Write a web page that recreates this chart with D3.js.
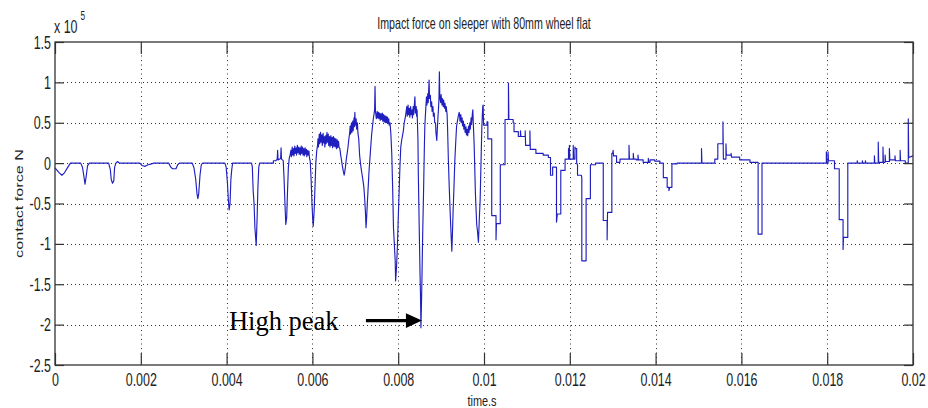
<!DOCTYPE html>
<html>
<head>
<meta charset="utf-8">
<script src="https://cdn.jsdelivr.net/npm/d3@7"></script>
<style>
  body { margin: 0; background: #fff; }
  svg { display: block; }
</style>
</head>
<body>
<svg id="chart"></svg>
<script>
// Trace: [time in ms, contact force in 1e5 N]
const quietStart = [
  [0,-0.06],[0.05,-0.09],[0.1,-0.12],[0.16,-0.15],[0.22,-0.12],[0.3,-0.05],[0.36,0],
  [0.6,0],[0.64,-0.05],[0.67,-0.15],[0.7,-0.26],[0.73,-0.15],[0.76,-0.03],[0.8,0],
  [1.25,0],[1.29,-0.08],[1.31,-0.2],[1.34,-0.25],[1.37,-0.22],[1.39,-0.05],[1.42,0],[1.46,0.02],[1.5,0],
  [1.98,0],[2.03,-0.03],[2.1,-0.04],[2.17,-0.02],[2.25,-0.01],[2.3,0],
  [2.65,0],[2.7,-0.05],[2.74,-0.07],[2.82,-0.07],[2.86,-0.02],[2.9,0],
  [3.2,0],[3.24,-0.06],[3.28,-0.2],[3.31,-0.38],[3.33,-0.44],[3.35,-0.38],[3.38,-0.15],[3.41,-0.02],[3.44,0],
  [3.96,0],[3.99,-0.05],[4.02,-0.25],[4.04,-0.45],[4.06,-0.58],[4.08,-0.5],[4.1,-0.2],[4.12,-0.08],[4.14,0],
  [4.58,0],[4.6,-0.05],[4.62,-0.35],[4.64,-0.5],[4.66,-0.8],[4.69,-1.02],[4.71,-0.7],[4.73,-0.3],[4.75,-0.05],[4.77,0],
  [5.09,0]
];

const noisyMiddle = [
  [5.09,0.03],[5.15,0.03],[5.18,0.05],[5.19,0.16],[5.2,0.04],[5.24,0.05],[5.26,0.06],[5.27,0.19],[5.28,0.05],[5.32,0.03],
  [5.34,-0.2],[5.36,-0.5],[5.38,-0.76],[5.4,-0.68],[5.42,-0.35],[5.44,-0.05],[5.46,0.06],[5.48,0.1],
  [5.5,0.16],[5.51,0.08],[5.53,0.2],[5.54,0.1],[5.56,0.18],[5.57,0.09],[5.59,0.21],[5.6,0.12],[5.62,0.19],[5.63,0.1],
  [5.65,0.22],[5.66,0.13],[5.68,0.2],[5.69,0.11],[5.71,0.19],[5.72,0.1],[5.74,0.21],[5.75,0.12],[5.77,0.2],[5.78,0.1],
  [5.8,0.18],[5.81,0.09],[5.83,0.19],[5.84,0.11],[5.86,0.17],[5.87,0.08],[5.89,0.16],[5.9,0.1],[5.92,0.15],[5.93,0.07],
  [5.95,0.02],[5.97,-0.2],[5.99,-0.5],[6.01,-0.72],[6.02,-0.78],[6.04,-0.6],[6.06,-0.3],[6.08,0],[6.1,0.15],[6.12,0.22],
  [6.13,0.3],[6.14,0.2],[6.16,0.36],[6.17,0.24],[6.19,0.38],[6.2,0.26],[6.22,0.35],[6.23,0.22],[6.25,0.37],[6.26,0.25],
  [6.28,0.33],[6.29,0.2],[6.31,0.34],[6.32,0.24],[6.34,0.38],[6.35,0.26],[6.37,0.36],[6.38,0.22],[6.4,0.33],[6.41,0.2],
  [6.43,0.34],[6.44,0.22],[6.46,0.32],[6.47,0.19],[6.49,0.33],[6.5,0.21],[6.52,0.31],[6.53,0.2],[6.55,0.3],[6.56,0.18],
  [6.58,0.29],[6.59,0.19],[6.61,0.27],[6.62,0.2],
  [6.64,0.18],[6.66,0.1],[6.68,0.03],[6.7,-0.04],[6.72,-0.1],[6.74,-0.15],[6.75,-0.12],[6.77,-0.05],[6.79,0.05],
  [6.81,0.12],[6.83,0.2],[6.85,0.3],[6.87,0.38],
  [6.88,0.46],[6.89,0.36],[6.91,0.5],[6.92,0.38],[6.94,0.52],[6.95,0.4],[6.97,0.56],[6.98,0.45],[6.99,0.63],[7,0.47],
  [7.02,0.55],[7.03,0.42],[7.05,0.5],[7.06,0.38],
  [7.08,0.3],[7.1,0.1],[7.12,0],[7.14,-0.08],[7.16,-0.15],[7.18,-0.22],[7.2,-0.3],[7.22,-0.45],[7.24,-0.65],[7.25,-0.8],
  [7.26,-0.72],[7.28,-0.5],[7.3,-0.3],[7.32,-0.1],[7.34,0.05],[7.36,0.2],[7.38,0.35],[7.4,0.45],[7.42,0.55],[7.44,0.62],
  [7.45,0.66],[7.46,0.95],[7.47,0.64],
  [7.48,0.6],[7.49,0.55],[7.51,0.64],[7.52,0.56],[7.54,0.63],[7.55,0.55],[7.57,0.62],[7.58,0.53],[7.6,0.61],[7.61,0.54],
  [7.63,0.62],[7.64,0.52],[7.66,0.6],[7.67,0.51],[7.69,0.59],[7.7,0.5],[7.72,0.58],[7.73,0.5],[7.75,0.57],[7.76,0.49],
  [7.78,0.55],[7.79,0.47],[7.81,0.5],
  [7.83,0.35],[7.85,0.12],[7.87,-0.3],[7.89,-0.8],[7.91,-1],[7.93,-1.21],[7.94,-1.46],[7.96,-1.3],[7.98,-1.05],[8,-0.7],
  [8.02,-0.38],[8.04,-0.05],[8.06,0.2],[8.08,0.28],[8.1,0.34],[8.12,0.4],[8.14,0.5],[8.16,0.55],[8.18,0.62],
  [8.2,0.7],[8.21,0.58],[8.23,0.72],[8.24,0.6],[8.26,0.68],[8.27,0.57],[8.29,0.7],[8.3,0.6],[8.32,0.66],[8.33,0.56],
  [8.35,0.7],[8.36,0.6],[8.38,0.75],[8.39,0.82],[8.4,0.62],[8.42,0.7],[8.43,0.58],[8.44,0.66],
  [8.46,0.3],[8.47,-0.17],[8.49,-0.8],[8.51,-1.4],[8.52,-1.63],[8.53,-2.04],[8.54,-1.8],[8.55,-1.54],[8.57,-0.9],
  [8.59,-0.38],[8.61,0.2],[8.62,0.45],[8.64,0.65],[8.65,0.74],
  [8.66,0.82],[8.67,0.72],[8.69,0.86],[8.7,0.75],[8.71,0.9],[8.72,1.03],[8.73,0.8],[8.75,0.84],[8.76,0.7],[8.78,0.76],
  [8.79,0.64],[8.81,0.7],[8.82,0.58],[8.84,0.62],[8.85,0.5],[8.87,0.5],[8.88,0.38],[8.9,0.28],[8.91,0.4],[8.93,0.6],
  [8.94,0.68],[8.95,0.8],[8.96,1.13],[8.97,0.82],[8.99,0.75],[9,0.85],[9.02,0.72],[9.03,0.8],[9.05,0.7],[9.06,0.78],
  [9.08,0.68],[9.09,0.74],[9.11,0.64],[9.12,0.7],[9.14,0.6],
  [9.15,0.45],[9.17,0.03],[9.19,-0.3],[9.21,-0.59],[9.23,-0.85],[9.25,-1.09],[9.26,-0.95],[9.28,-0.59],[9.3,-0.3],
  [9.32,0.03],[9.34,0.25],[9.36,0.45],[9.38,0.52],[9.4,0.58],[9.42,0.63],
  [9.43,0.6],[9.44,0.52],[9.46,0.6],[9.47,0.5],[9.49,0.56],[9.5,0.46],[9.52,0.52],[9.53,0.42],[9.55,0.48],[9.56,0.38],
  [9.58,0.45],[9.59,0.35],[9.61,0.42],[9.62,0.34],[9.64,0.46],[9.65,0.38],[9.67,0.5],[9.68,0.42],[9.7,0.56],[9.71,0.48],
  [9.73,0.62],[9.74,0.66],[9.75,0.5],
  [9.77,0.24],[9.8,-0.38],[9.83,-0.76],[9.85,-0.85],[9.87,-0.98],[9.89,-0.7],[9.91,-0.46],[9.93,0],[9.95,0.45],[9.97,0.7]
];

const stepTail = [
  [9.98,0.72],[9.99,0.47],[10.07,0.47],[10.07,0.51],[10.09,0.51],[10.09,0.3],[10.18,0.3],[10.18,-0.65],[10.28,-0.65],
  [10.28,-0.95],[10.29,-0.75],[10.38,-0.75],[10.38,-0.02],[10.49,-0.02],[10.49,0.54],[10.57,0.54],[10.57,0.99],
  [10.58,0.54],[10.68,0.54],[10.68,0.5],[10.7,0.5],[10.7,0.39],[10.8,0.39],[10.8,0.33],[10.85,0.33],[10.85,0.4],
  [10.86,0.33],[10.96,0.33],[10.96,0.4],[10.97,0.22],[11.07,0.22],[11.07,0.4],[11.08,0.17],[11.21,0.17],[11.21,0.12],
  [11.38,0.12],[11.38,0.1],[11.5,0.1],[11.5,0.07],[11.55,0.07],[11.55,-0.15],[11.6,-0.15],[11.6,-0.05],[11.69,-0.05],
  [11.69,-0.73],[11.71,-0.63],[11.79,-0.63],[11.79,-0.09],[11.89,-0.09],[11.89,0.05],[11.97,0.05],[11.97,0.18],
  [11.98,0.05],[11.99,0.05],[11.99,0.22],[12,0.05],[12.08,0.05],[12.08,0.22],[12.09,0.05],[12.12,0.05],[12.12,0.2],
  [12.13,0.18],[12.16,0.18],[12.16,0],[12.18,-0.02],[12.18,-0.15],[12.27,-0.15],[12.28,-0.18],[12.28,-1.21],
  [12.38,-1.21],[12.38,-0.44],[12.48,-0.44],[12.48,-0.02],[12.6,-0.02],[12.6,0],[12.78,0],[12.78,-0.71],[12.87,-0.71],
  [12.87,-0.95],[12.88,-0.61],[12.98,-0.61],[12.98,0.12],[13,0.12],[13.01,0.16],[13.02,0.09],[13.09,0.09],[13.09,0.01],
  [13.17,0.01],[13.17,0.05],[13.38,0.05],[13.38,0.22],[13.39,0.05],[13.48,0.05],[13.48,0.12],[13.49,0.05],[13.55,0.05],
  [13.55,0.04],[13.59,0.04],[13.59,0.1],[13.6,0.04],[13.71,0.04],[13.71,0.01],[13.83,0.01],[13.83,0.06],[13.84,0.01],
  [13.87,0.01],[13.87,0.04],[13.98,0.04],[13.98,0.025],[14.1,0.025],[14.1,0],[14.18,0],[14.18,-0.18],[14.27,-0.18],
  [14.27,-0.3],[14.31,-0.3],[14.31,-0.34],[14.33,-0.3],[14.38,-0.3],[14.38,-0.01],[14.5,-0.01],[14.5,0],[15.07,0],
  [15.07,0.18],[15.08,0],[15.38,0],[15.38,0.05],[15.45,0.05],[15.45,0.24],[15.57,0.24],[15.57,0.51],[15.58,0.05],
  [15.64,0.05],[15.64,0.24],[15.65,0.1],[15.76,0.1],[15.76,0.12],[15.77,0.075],[15.96,0.075],[15.96,0.04],[16.2,0.04],
  [16.2,0.01],[16.39,0.01],[16.39,-0.88],[16.48,-0.88],[16.48,0],[17.98,0],[17.98,0.14],[17.99,0],[18.02,0],[18.02,0.14],
  [18.03,0.03],[18.17,0.03],[18.17,-0.07],[18.28,-0.07],[18.28,-0.7],[18.37,-0.7],[18.37,-1.07],[18.38,-0.92],
  [18.48,-0.92],[18.48,0],[18.7,0],[18.7,0.03],[18.71,0],[18.82,0],[18.82,0.03],[18.83,0],[18.89,0],[18.89,0.03],
  [18.9,0],[19.1,0],[19.1,0.09],[19.11,0],[19.19,0],[19.19,0.26],[19.2,0.01],[19.3,0.01],[19.3,0.2],[19.31,0.01],
  [19.35,0.01],[19.35,0.1],[19.36,0.02],[19.45,0.02],[19.45,0.18],[19.46,0.04],[19.58,0.04],[19.58,0.09],[19.59,0.03],
  [19.7,0.03],[19.7,0.16],[19.71,0.03],[19.82,0.03],[19.82,0],[19.89,0],[19.89,0.55],[19.9,0.07],[20,0.09]
];

const xTickValues = [0, 0.002, 0.004, 0.006, 0.008, 0.01, 0.012, 0.014, 0.016, 0.018, 0.02];
const xTickLabels = ["0", "0.002", "0.004", "0.006", "0.008", "0.01", "0.012", "0.014", "0.016", "0.018", "0.02"];
const yTickValues = [1.5, 1, 0.5, 0, -0.5, -1, -1.5, -2, -2.5];
const yTickLabels = ["1.5", "1", "0.5", "0", "-0.5", "-1", "-1.5", "-2", "-2.5"];

const titleText = "Impact force on sleeper with 80mm wheel flat";
const xLabelText = "time.s";
const yLabelText = "contact force N";
const annotation = { label: "High peak", t: 0.00853, f: -1.95 };

const width = 928, height = 408;
const sans = "'Liberation Sans', Arial, sans-serif";
const squeeze = 0.655; // the figure is horizontally compressed

const svg = d3.select("#chart").attr("width", width).attr("height", height);

const x = d3.scaleLinear().domain([0, 0.02]).range([55, 913]);
const y = d3.scaleLinear().domain([-2.5, 1.5]).range([365, 42]);

// shrink text widths to mimic the compressed figure
function narrow(sel, ratio = squeeze) {
  sel.each(function() {
    const w = this.getComputedTextLength();
    d3.select(this).attr("textLength", w * ratio).attr("lengthAdjust", "spacingAndGlyphs");
  });
}

// dotted grid
const grid = svg.append("g").attr("stroke", "#333").attr("stroke-width", 1);
grid.selectAll(".vgrid")
  .data(xTickValues.slice(1, -1))
  .join("line")
  .attr("class", "vgrid")
  .attr("x1", d => Math.round(x(d)) + 0.5)
  .attr("x2", d => Math.round(x(d)) + 0.5)
  .attr("y1", y(1.5))
  .attr("y2", y(-2.5))
  .attr("stroke-dasharray", "1,3.5");
grid.selectAll(".hgrid")
  .data(yTickValues.slice(1, -1))
  .join("line")
  .attr("class", "hgrid")
  .attr("x1", x(0))
  .attr("x2", x(0.02))
  .attr("y1", d => Math.round(y(d)) + 0.5)
  .attr("y2", d => Math.round(y(d)) + 0.5)
  .attr("stroke-dasharray", "1,3");

// the trace
const trace = [...quietStart, ...noisyMiddle, ...stepTail].map(([ms, f]) => ({ t: ms / 1000, f }));
const line = d3.line().x(d => x(d.t)).y(d => y(d.f));
svg.append("path")
  .datum(trace)
  .attr("d", line)
  .attr("fill", "none")
  .attr("stroke", "#1f1fc0")
  .attr("stroke-width", 1.15)
  .attr("stroke-linejoin", "round");

// axes with inward ticks, MATLAB style
function styleAxis(g) {
  g.select(".domain").remove();
  g.attr("font-family", sans).attr("font-size", 19).attr("color", "#333");
  g.selectAll(".tick line").attr("stroke-width", 1.2);
}

const xAxis = d3.axisBottom(x).tickValues(xTickValues)
  .tickFormat((d, i) => xTickLabels[i]).tickSizeInner(-12).tickSizeOuter(0).tickPadding(8);
svg.append("g").attr("transform", `translate(0,${y(-2.5)})`).call(xAxis).call(styleAxis)
  .selectAll("text").attr("fill", "#222").call(narrow);

svg.append("g").attr("transform", `translate(0,${y(1.5)})`)
  .call(d3.axisTop(x).tickValues(xTickValues).tickFormat("").tickSizeInner(-12).tickSizeOuter(0))
  .call(styleAxis);

const yAxis = d3.axisLeft(y).tickValues(yTickValues)
  .tickFormat((d, i) => yTickLabels[i]).tickSizeInner(-9).tickSizeOuter(0).tickPadding(4);
svg.append("g").attr("transform", `translate(${x(0)},0)`).call(yAxis).call(styleAxis)
  .selectAll("text").attr("fill", "#222").call(narrow);

svg.append("g").attr("transform", `translate(${x(0.02)},0)`)
  .call(d3.axisRight(y).tickValues(yTickValues).tickFormat("").tickSizeInner(-9).tickSizeOuter(0))
  .call(styleAxis);

// box
svg.append("rect")
  .attr("x", x(0)).attr("y", y(1.5))
  .attr("width", x(0.02) - x(0)).attr("height", y(-2.5) - y(1.5))
  .attr("fill", "none").attr("stroke", "#333").attr("stroke-width", 1.3);

// exponent
svg.append("text").attr("x", x(0) - 1).attr("y", 33)
  .attr("font-family", sans).attr("font-size", 19).attr("fill", "#222")
  .text("x 10").call(narrow);
svg.append("text").attr("x", x(0) + 25.5).attr("y", 20)
  .attr("font-family", sans).attr("font-size", 12.5).attr("fill", "#222")
  .text("5").call(narrow);

// title
svg.append("text")
  .attr("x", (x(0) + x(0.02)) / 2).attr("y", 29)
  .attr("text-anchor", "middle")
  .attr("font-family", sans).attr("font-size", 16.5).attr("fill", "#222")
  .text(titleText).call(narrow, 0.645);

// axis labels
svg.append("text")
  .attr("x", (x(0) + x(0.02)) / 2 - 2).attr("y", 406)
  .attr("text-anchor", "middle")
  .attr("font-family", sans).attr("font-size", 14).attr("fill", "#222")
  .text(xLabelText).call(narrow, 0.78);

svg.append("text")
  .attr("transform", `translate(22.5,${(y(1.5) + y(-2.5)) / 2}) rotate(-90) scale(1,0.69)`)
  .attr("text-anchor", "middle")
  .attr("font-family", sans).attr("font-size", 16.2).attr("fill", "#222")
  .text(yLabelText);

// annotation arrow pointing at the peak
const ax = x(annotation.t) + 1, ay = y(annotation.f);
svg.append("line")
  .attr("x1", ax - 56).attr("x2", ax - 13).attr("y1", ay).attr("y2", ay)
  .attr("stroke", "#000").attr("stroke-width", 3.3);
svg.append("path")
  .attr("d", `M${ax - 16},${ay - 7.3}L${ax},${ay}L${ax - 16},${ay + 7.3}Z`)
  .attr("fill", "#000");
svg.append("text")
  .attr("x", ax - 193).attr("y", ay + 9.5)
  .attr("font-family", "'Liberation Serif', 'Times New Roman', serif")
  .attr("font-size", 26.5).attr("fill", "#000")
  .text(annotation.label);
</script>
</body>
</html>
